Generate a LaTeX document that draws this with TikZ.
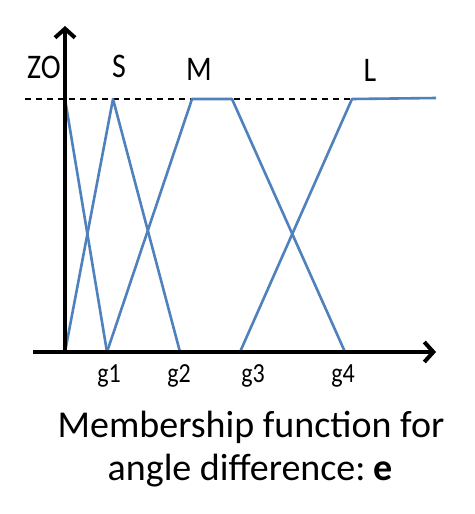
\documentclass[tikz,border=0pt]{standalone}
\usepackage{fontspec}
\setmainfont{Carlito}
\usetikzlibrary{arrows.meta}
\definecolor{mfblue}{RGB}{79,129,189}
\newcommand{\tallbox}[1]{\scalebox{1}[1.15]{#1}}
\tikzset{
  axis/.style={line width=4pt,-{Straight Barb[length=9pt,width=20pt,line width=4pt]}},
  mf/.style={mfblue,line width=2.6pt,line join=round},
  lbl/.style={anchor=base,inner sep=0pt,font=\fontsize{30}{36}\selectfont},
  glbl/.style={anchor=base,inner sep=0pt,font=\fontsize{24}{28}\selectfont},
  captxt/.style={anchor=base,inner sep=0pt,font=\fontsize{38}{44}\selectfont}
}
\begin{document}
\begin{tikzpicture}[x=1pt,y=-1pt]
\useasboundingbox (0,0) rectangle (474,514);
\fill[white] (0,0) rectangle (474,514);
% coordinates
\coordinate (o) at (65,352);
\coordinate (ytop) at (65,26);
\coordinate (xl) at (33,352);
\coordinate (xr) at (436,352);
\coordinate (dl) at (25,99);
\coordinate (dr) at (352,99);
% dashed level line
\draw[black,line width=1.5pt,dash pattern=on 6pt off 5pt] (dl) -- (dr);
% membership functions
\draw[mf] (65,99) -- (107,352);                 % ZO
\draw[mf] (65,352) -- (113,99) -- (180,352);    % S
\draw[mf] (107,352) -- (192,99) -- (232,99) -- (345,352); % M
\draw[mf] (240,352) -- (352,99) -- (436,98);    % L
% axes
\draw[axis] (o) -- (ytop);
\draw[axis] (xl) -- (xr);
% labels
\node[lbl] (zo) at (44,78) {\tallbox{ZO}};
\node[lbl] (s) at (119,77) {\tallbox{S}};
\node[lbl] (m) at (199,80) {\tallbox{M}};
\node[lbl] (l) at (370,81) {\tallbox{L}};
\node[glbl] (g1) at (109,382) {\tallbox{g1}};
\node[glbl] (g2) at (179,382) {\tallbox{g2}};
\node[glbl] (g3) at (253,382) {\tallbox{g3}};
\node[glbl] (g4) at (343,382) {\tallbox{g4}};
\node[captxt] (c1) at (251,437) {Membership function for};
\node[captxt] (c2) at (250,480) {angle difference:\hspace{0.2em}\textbf{e}};
\end{tikzpicture}
\end{document}
